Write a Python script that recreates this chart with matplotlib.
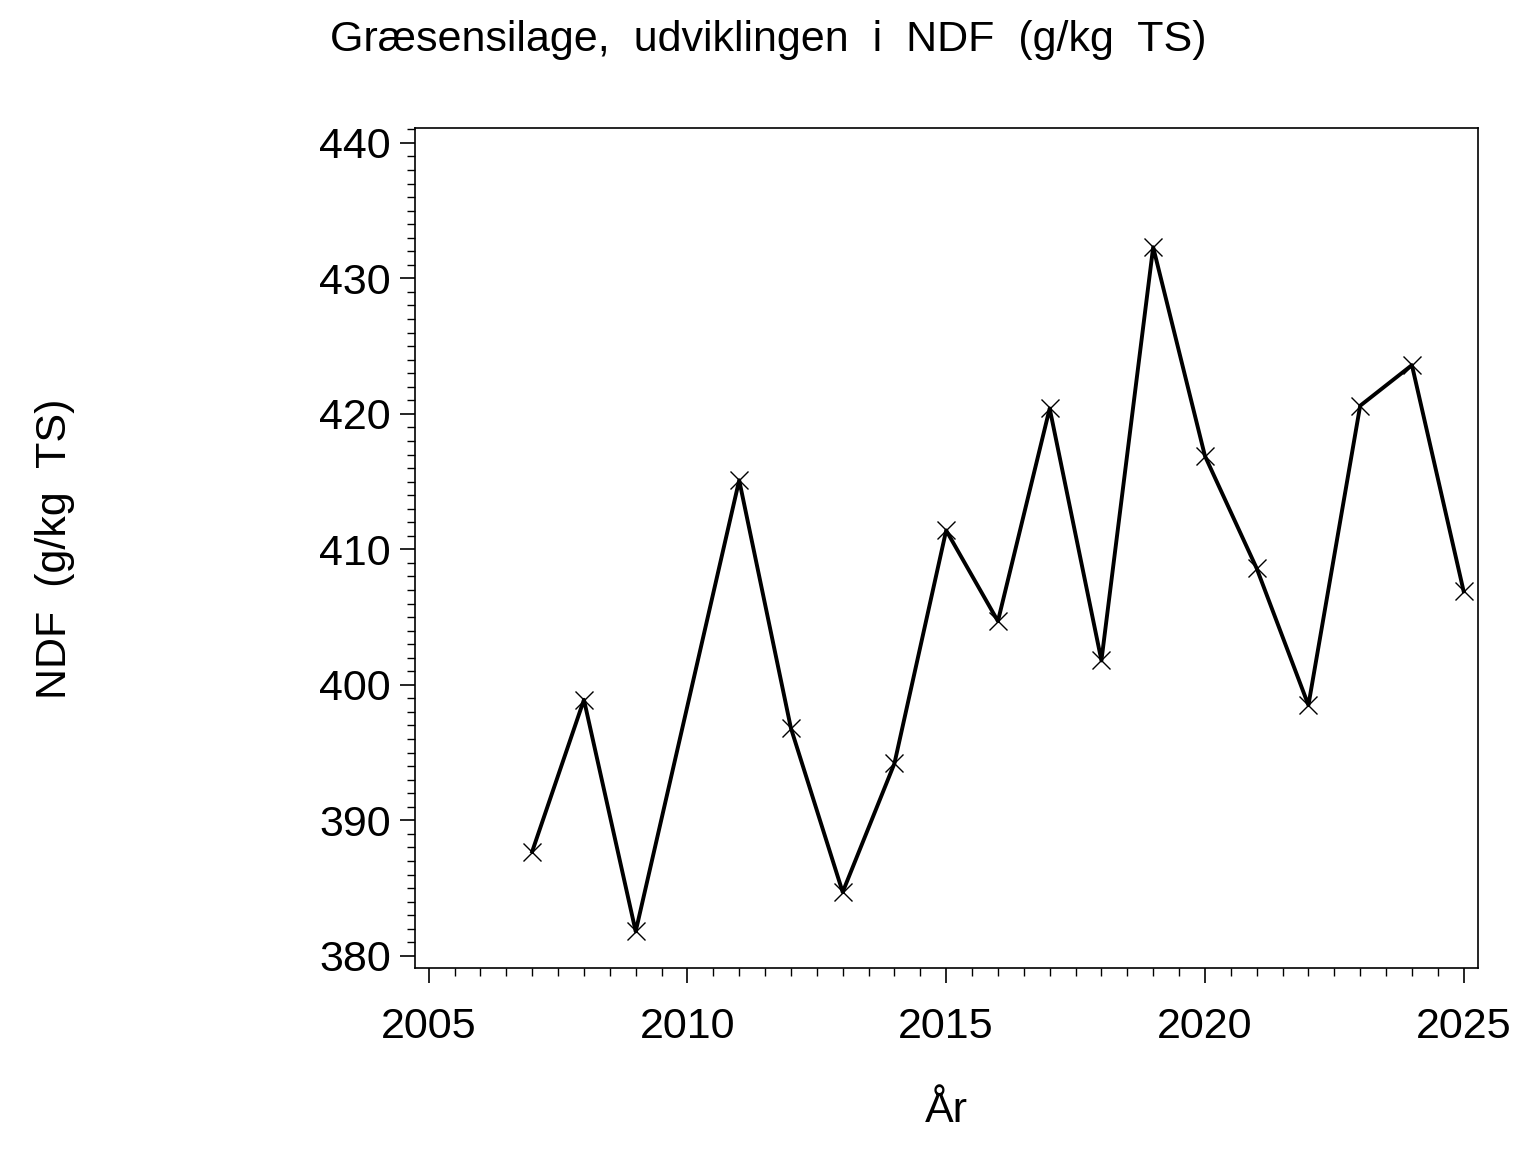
import matplotlib
matplotlib.use("Agg")
import matplotlib.pyplot as plt
from matplotlib.ticker import MultipleLocator

plt.rcParams['font.family'] = ['Liberation Sans', 'DejaVu Sans']

years = [2007, 2008, 2009, 2011, 2012, 2013, 2014, 2015, 2016, 2017,
         2018, 2019, 2020, 2021, 2022, 2023, 2024, 2025]
ndf = [387.7, 398.9, 381.8, 415.1, 396.8, 384.7, 394.2, 411.4, 404.7, 420.4,
       401.8, 432.3, 416.9, 408.6, 398.5, 420.6, 423.6, 406.9]
x_ticks = [2005, 2010, 2015, 2020, 2025]
y_ticks = [380, 390, 400, 410, 420, 430, 440]

fig = plt.figure(figsize=(15.36, 11.52), dpi=100)
ax = fig.add_axes([0.270, 0.1597, 0.692, 0.7292])

ax.plot(years, ndf, color='black', linewidth=2.8, marker='x',
        markersize=13, markeredgewidth=1.0)

ax.set_xlim(2004.73, 2025.27)
ax.set_ylim(379.1, 441.1)
ax.set_xticks(x_ticks)
ax.set_yticks(y_ticks)
ax.xaxis.set_minor_locator(MultipleLocator(0.5))
ax.yaxis.set_minor_locator(MultipleLocator(1))
ax.tick_params(axis='both', which='major', direction='out', length=11,
               width=1.2, labelsize=31)
ax.tick_params(axis='y', which='major', pad=6)
ax.tick_params(axis='x', which='major', pad=17)
ax.tick_params(axis='both', which='minor', direction='out', length=6, width=1.0)
for s in ax.spines.values():
    s.set_linewidth(1.2)

fig.text(0.5, 0.965, 'Græsensilage,  udviklingen  i  NDF  (g/kg  TS)',
         ha='center', va='center', fontsize=31)
fig.text(0.036, 0.524, 'NDF  (g/kg  TS)', rotation=90, ha='center',
         va='center', fontsize=31)
fig.text(0.616, 0.036, 'År', ha='center', va='center', fontsize=31)

fig.savefig('out.png', dpi=100)
